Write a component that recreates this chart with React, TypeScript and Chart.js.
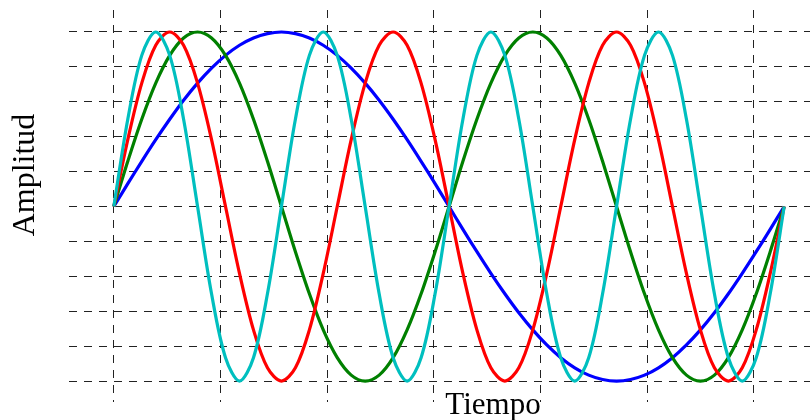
import { useEffect, useRef } from 'react';
import { Chart, registerables } from 'chart.js';

Chart.register(...registerables);

// Sample times (0 .. 2π)
const tiempo = [
  0, 0.131, 0.262, 0.393, 0.524, 0.654, 0.785, 0.916, 1.047, 1.178, 1.309, 1.44, 1.571,
  1.702, 1.833, 1.963, 2.094, 2.225, 2.356, 2.487, 2.618, 2.749, 2.88, 3.011, 3.142,
  3.272, 3.403, 3.534, 3.665, 3.796, 3.927, 4.058, 4.189, 4.32, 4.451, 4.581, 4.712,
  4.843, 4.974, 5.105, 5.236, 5.367, 5.498, 5.629, 5.76, 5.89, 6.021, 6.152, 6.283,
];

// Blue wave: one cycle
const onda1 = [
  0, 0.131, 0.259, 0.383, 0.5, 0.609, 0.707, 0.793, 0.866, 0.924, 0.966, 0.991, 1,
  0.991, 0.966, 0.924, 0.866, 0.793, 0.707, 0.609, 0.5, 0.383, 0.259, 0.131, 0,
  -0.131, -0.259, -0.383, -0.5, -0.609, -0.707, -0.793, -0.866, -0.924, -0.966, -0.991, -1,
  -0.991, -0.966, -0.924, -0.866, -0.793, -0.707, -0.609, -0.5, -0.383, -0.259, -0.131, 0,
];

// Green wave: two cycles
const onda2 = [
  0, 0.259, 0.5, 0.707, 0.866, 0.966, 1, 0.966, 0.866, 0.707, 0.5, 0.259, 0,
  -0.259, -0.5, -0.707, -0.866, -0.966, -1, -0.966, -0.866, -0.707, -0.5, -0.259, 0,
  0.259, 0.5, 0.707, 0.866, 0.966, 1, 0.966, 0.866, 0.707, 0.5, 0.259, 0,
  -0.259, -0.5, -0.707, -0.866, -0.966, -1, -0.966, -0.866, -0.707, -0.5, -0.259, 0,
];

// Red wave: three cycles
const onda3 = [
  0, 0.383, 0.707, 0.924, 1, 0.924, 0.707, 0.383, 0, -0.383, -0.707, -0.924, -1, -0.924, -0.707, -0.383,
  0, 0.383, 0.707, 0.924, 1, 0.924, 0.707, 0.383, 0, -0.383, -0.707, -0.924, -1, -0.924, -0.707, -0.383,
  0, 0.383, 0.707, 0.924, 1, 0.924, 0.707, 0.383, 0, -0.383, -0.707, -0.924, -1, -0.924, -0.707, -0.383,
  0,
];

// Cyan wave: four cycles
const onda4 = [
  0, 0.5, 0.866, 1, 0.866, 0.5, 0, -0.5, -0.866, -1, -0.866, -0.5,
  0, 0.5, 0.866, 1, 0.866, 0.5, 0, -0.5, -0.866, -1, -0.866, -0.5,
  0, 0.5, 0.866, 1, 0.866, 0.5, 0, -0.5, -0.866, -1, -0.866, -0.5,
  0, 0.5, 0.866, 1, 0.866, 0.5, 0, -0.5, -0.866, -1, -0.866, -0.5,
  0,
];

// Grid positions
const xTicks = [0, 1, 2, 3, 4, 5, 6];
const yTicks = [-1, -0.8, -0.6, -0.4, -0.2, 0, 0.2, 0.4, 0.6, 0.8, 1];

const xTitle = 'Tiempo';
const yTitle = 'Amplitud';

const serif = '"Liberation Serif", "Times New Roman", serif';

const axisTitles = {
  id: 'axisTitles',
  afterDraw(chart: any) {
    const { ctx, chartArea } = chart;
    ctx.save();
    ctx.fillStyle = '#000';
    ctx.textAlign = 'center';
    ctx.textBaseline = 'alphabetic';
    ctx.font = `31px ${serif}`;
    ctx.fillText(xTitle, chartArea.left + 424, chartArea.bottom + 12);
    ctx.font = `32px ${serif}`;
    ctx.translate(chartArea.left - 35, chartArea.top + 165);
    ctx.rotate(-Math.PI / 2);
    ctx.fillText(yTitle, 0, 0);
    ctx.restore();
  },
};

const toPoints = (ys: number[]) => tiempo.map((t, i) => ({ x: t, y: ys[i] }));

export default function App() {
  const canvasRef = useRef<HTMLCanvasElement | null>(null);

  useEffect(() => {
    document.body.style.margin = '0';
    const canvas = canvasRef.current;
    if (!canvas) return;

    const line = (data: number[], color: string, order: number) => ({
      data: toPoints(data),
      borderColor: color,
      backgroundColor: color,
      borderWidth: 3.2,
      pointRadius: 0,
      fill: false,
      tension: 0.33,
      order,
    });

    const grid = {
      color: '#222',
      lineWidth: 1,
      drawTicks: false,
    };

    const chart = new Chart(canvas, {
      type: 'line',
      data: {
        datasets: [
          line(onda1, '#0000ff', 4),
          line(onda2, '#008000', 3),
          line(onda3, '#ff0000', 2),
          line(onda4, '#00bfbf', 1),
        ],
      },
      options: {
        animation: false,
        responsive: false,
        devicePixelRatio: 1,
        layout: { padding: { left: 69, top: 10, right: 0, bottom: 18 } },
        plugins: {
          legend: { display: false },
          tooltip: { enabled: false },
        },
        scales: {
          x: {
            type: 'linear',
            min: -0.42,
            max: 6.525,
            afterBuildTicks: (s: any) => {
              s.ticks = xTicks.map((v) => ({ value: v }));
            },
            ticks: { display: false },
            grid,
            border: { display: false, dash: [8, 7] },
          },
          y: {
            type: 'linear',
            min: -1.12,
            max: 1.126,
            afterBuildTicks: (s: any) => {
              s.ticks = yTicks.map((v) => ({ value: v }));
            },
            ticks: { display: false },
            grid,
            border: { display: false, dash: [8, 7] },
          },
        },
      },
      plugins: [axisTitles],
    });

    return () => chart.destroy();
  }, []);

  return (
    <div style={{ width: 810, height: 420, background: '#fff' }}>
      <canvas ref={canvasRef} width={810} height={420} />
    </div>
  );
}
